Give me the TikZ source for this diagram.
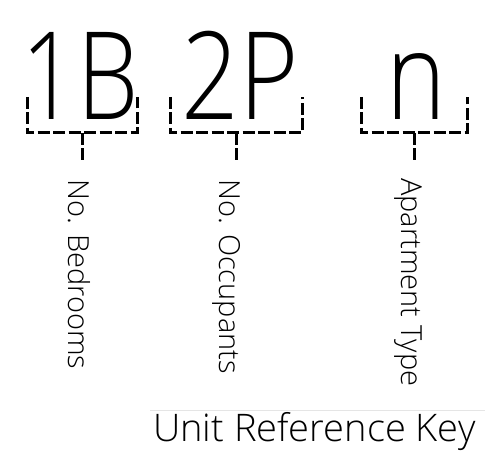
\documentclass[tikz,border=0pt]{standalone}
\usepackage{fontspec}
\setmainfont{Open Sans}[UprightFont=* Light]
\begin{document}
\begin{tikzpicture}[x=1bp,y=-1bp,
  bracket/.style={line width=3bp,dash pattern=on 12bp off 3.5bp},
  big/.style={inner sep=0,anchor=base,font=\fontsize{122bp}{122bp}\selectfont},
  lab/.style={inner sep=0,anchor=base west,rotate=-90,font=\fontsize{29bp}{29bp}\selectfont},
  rule/.style={draw=black!10,line width=1bp}]
\useasboundingbox (0,0) rectangle (485,451);
% big codes
\node[big] (b1) at (80,120) {\scalebox{0.8}[1]{1B}};
\node[big] (b2) at (240,120) {\scalebox{0.83}[1]{2P}};
\node[big] (b3) at (416.5,120) {\scalebox{0.83}[1]{n}};
% bracket coordinates
\coordinate (l1) at (27,97);  \coordinate (r1) at (137,97);
\coordinate (l2) at (170,97); \coordinate (r2) at (302,97);
\coordinate (l3) at (361,97); \coordinate (r3) at (467,97);
\coordinate (s1) at (82,133);  \coordinate (e1) at (82,160);
\coordinate (s2) at (236,133); \coordinate (e2) at (236,160);
\coordinate (s3) at (414,133); \coordinate (e3) at (414,160);
\draw[bracket] (l1) -- (27,133) -- (137,133) -- (r1);
\draw[bracket] (s1) -- (e1);
\draw[bracket] (l2) -- (170,133) -- (302,133) -- (r2);
\draw[bracket] (s2) -- (e2);
\draw[bracket] (l3) -- (361,133) -- (467,133) -- (r3);
\draw[bracket] (s3) -- (e3);
% labels
\node[lab] (t1) at (68,179) {No. Bedrooms};
\node[lab] (t2) at (219,179) {No. Occupants};
\node[lab] (t3) at (401,178) {Apartment Type};
% footer
\coordinate (ra) at (150,410); \coordinate (rb) at (485,410);
\draw[rule] (ra) -- (rb);
\node[inner sep=0,anchor=base west,font=\fontsize{38bp}{38bp}\selectfont] (title) at (153,441) {Unit Reference Key};
\end{tikzpicture}
\end{document}
